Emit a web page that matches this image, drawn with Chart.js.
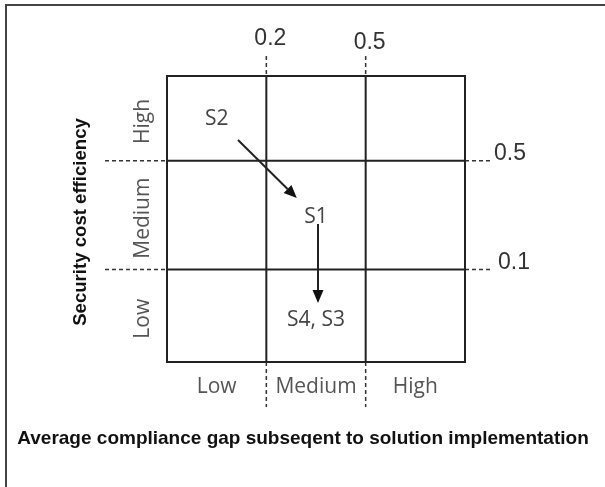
<!DOCTYPE html>
<html>
<head>
<meta charset="utf-8">
<script src="https://cdn.jsdelivr.net/npm/chart.js@4"></script>
<style>
  body { margin: 0; background: #fff; }
  #wrap { width: 605px; height: 487px; }
</style>
</head>
<body>
<div id="wrap"><canvas id="matrixChart" width="605" height="487"></canvas></div>
<script>
// categories of the 3x3 matrix
const gapLevels = ['Low', 'Medium', 'High'];          // x: compliance gap
const costLevels = ['Low', 'Medium', 'High'];         // y: cost efficiency
// band edges in axis units (rows are not quite equal in the picture)
const colEdges = [0, 1, 2, 3];
const rowEdges = [0, 0.97, 2.11, 3];
// threshold labels on the inner lines
const gapThresholds = ['0.2', '0.5'];
const costThresholds = ['0.1', '0.5'];

// solutions placed in the matrix
const scenarioLabels = ['S2', 'S1', 'S4, S3'];
const scenarioGap = [0.5, 1.5, 1.5];
const scenarioCost = [2.55, 1.52, 0.44];
// moves between scenarios (from index, to index)
const moves = [[0, 1], [1, 2]];

const xTitle = 'Average compliance gap subseqent to solution implementation';
const yTitle = 'Security cost efficiency';

const matrixPlugin = {
    id: 'matrix',
    afterDraw(chart) {
        const ctx = chart.ctx;
        const xs = chart.scales.x, ys = chart.scales.y;
        const L = xs.getPixelForValue(colEdges[0]), R = xs.getPixelForValue(colEdges[3]);
        const B = ys.getPixelForValue(rowEdges[0]), T = ys.getPixelForValue(rowEdges[3]);
        ctx.save();

        // outer frame (only top and left show in the picture)
        ctx.strokeStyle = '#444';
        ctx.lineWidth = 2;
        ctx.beginPath();
        ctx.moveTo(6, 487); ctx.lineTo(6, 5); ctx.lineTo(605, 5);
        ctx.stroke();

        // dashed extensions of the inner lines
        ctx.strokeStyle = '#333';
        ctx.lineWidth = 1.5;
        ctx.setLineDash([4, 3]);
        for (let i = 1; i <= 2; i++) {
            const px = xs.getPixelForValue(colEdges[i]);
            ctx.beginPath();
            ctx.moveTo(px, T - 20); ctx.lineTo(px, T);
            ctx.moveTo(px, B); ctx.lineTo(px, B + 45);
            ctx.stroke();
            const py = ys.getPixelForValue(rowEdges[i]);
            ctx.beginPath();
            ctx.moveTo(L - 62, py); ctx.lineTo(L, py);
            ctx.moveTo(R, py); ctx.lineTo(R + 28, py);
            ctx.stroke();
        }
        ctx.setLineDash([]);

        // grid
        ctx.strokeStyle = '#222';
        ctx.lineWidth = 2;
        ctx.strokeRect(L, T, R - L, B - T);
        ctx.beginPath();
        for (let i = 1; i <= 2; i++) {
            const px = xs.getPixelForValue(colEdges[i]);
            ctx.moveTo(px, T); ctx.lineTo(px, B);
            const py = ys.getPixelForValue(rowEdges[i]);
            ctx.moveTo(L, py); ctx.lineTo(R, py);
        }
        ctx.stroke();

        // threshold numbers
        ctx.fillStyle = '#333';
        ctx.font = '23px "Liberation Sans", Arial, sans-serif';
        ctx.textAlign = 'center';
        ctx.textBaseline = 'middle';
        gapThresholds.forEach((t, i) => {
            const px = xs.getPixelForValue(colEdges[i + 1]);
            ctx.fillText(t, px + 4, 39 + i * 4);
        });
        ctx.textAlign = 'left';
        costThresholds.forEach((t, i) => {
            const py = ys.getPixelForValue(rowEdges[i + 1]);
            ctx.fillText(t, R + 33 - i * 4, py - 7);
        });

        // category labels
        ctx.fillStyle = '#555';
        ctx.font = '21px "Open Sans", sans-serif';
        ctx.textAlign = 'center';
        gapLevels.forEach((c, i) => {
            const px = xs.getPixelForValue((colEdges[i] + colEdges[i + 1]) / 2);
            ctx.fillText(c, px, B + 25);
        });
        costLevels.forEach((c, i) => {
            const py = ys.getPixelForValue((rowEdges[i] + rowEdges[i + 1]) / 2);
            ctx.save();
            ctx.translate(L - 24, py + 3);
            ctx.rotate(-Math.PI / 2);
            ctx.fillText(c, 0, 0);
            ctx.restore();
        });

        // axis titles
        ctx.fillStyle = '#111';
        ctx.font = 'bold 19px "Liberation Sans", Arial, sans-serif';
        ctx.fillText(xTitle, 303, 439);
        ctx.font = 'bold 18.6px "Liberation Sans", Arial, sans-serif';
        ctx.save();
        ctx.translate(81, 222);
        ctx.rotate(-Math.PI / 2);
        ctx.fillText(yTitle, 0, 0);
        ctx.restore();

        // scenario labels
        const pts = scenarioLabels.map((s, i) => ({
            x: xs.getPixelForValue(scenarioGap[i]),
            y: ys.getPixelForValue(scenarioCost[i])
        }));
        ctx.fillStyle = '#444';
        ctx.font = '21px "Open Sans", sans-serif';
        scenarioLabels.forEach((s, i) => ctx.fillText(s, pts[i].x, pts[i].y));

        // arrows
        const gaps = [[30, 27], [7, 17]];
        ctx.strokeStyle = '#222';
        ctx.fillStyle = '#111';
        ctx.lineWidth = 2;
        moves.forEach((m, k) => {
            const a = pts[m[0]], b = pts[m[1]];
            let dx = b.x - a.x, dy = b.y - a.y;
            const len = Math.hypot(dx, dy);
            dx /= len; dy /= len;
            const sx = a.x + dx * gaps[k][0] + (k === 1 ? 2 : 0), sy = a.y + dy * gaps[k][0];
            const ex = b.x - dx * gaps[k][1] + (k === 1 ? 2 : 0), ey = b.y - dy * gaps[k][1];
            const hl = 13, hw = 5.5;
            ctx.beginPath();
            ctx.moveTo(sx, sy);
            ctx.lineTo(ex - dx * hl, ey - dy * hl);
            ctx.stroke();
            ctx.beginPath();
            ctx.moveTo(ex, ey);
            ctx.lineTo(ex - dx * hl - dy * hw, ey - dy * hl + dx * hw);
            ctx.lineTo(ex - dx * hl + dy * hw, ey - dy * hl - dx * hw);
            ctx.closePath();
            ctx.fill();
        });
        ctx.restore();
    }
};

const ctx = document.getElementById('matrixChart').getContext('2d');
new Chart(ctx, {
    type: 'scatter',
    data: {
        datasets: [{
            label: 'Scenarios',
            data: scenarioGap.map((g, i) => ({ x: g, y: scenarioCost[i] })),
            pointRadius: 0
        }]
    },
    options: {
        responsive: false,
        animation: false,
        layout: { padding: { left: 167, right: 140, top: 76, bottom: 125 } },
        scales: {
            x: { type: 'linear', min: 0, max: 3, display: false },
            y: { type: 'linear', min: 0, max: 3, display: false }
        },
        plugins: { legend: { display: false }, tooltip: { enabled: false } }
    },
    plugins: [matrixPlugin]
});
</script>
</body>
</html>
